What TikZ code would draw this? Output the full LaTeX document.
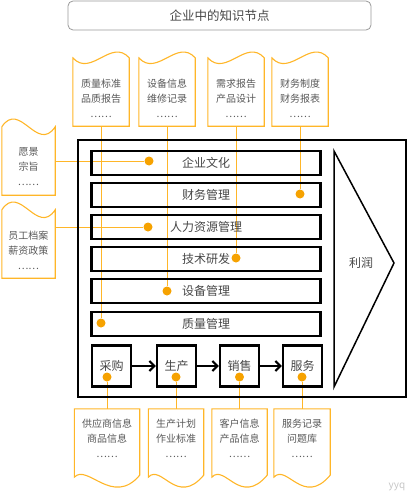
\documentclass[tikz,border=0pt]{standalone}
\usepackage{fontspec}
\setmainfont{Noto Sans CJK SC}
\usetikzlibrary{arrows.meta}

\definecolor{gold}{RGB}{255,182,40}
\definecolor{dotgold}{RGB}{246,162,0}
\definecolor{ink}{RGB}{70,70,70}

\begin{document}
\begin{tikzpicture}[x=1pt,y=-1pt,
  every node/.style={inner sep=0pt,align=center},
  headbox/.style={draw=gray!80,rounded corners=5pt,line width=0.8pt,minimum width=303pt,minimum height=29pt,font=\fontsize{12.5}{15}\selectfont,text=ink},
  bar/.style={draw,line width=2.2pt,minimum width=229pt,minimum height=24pt,font=\fontsize{12}{14}\selectfont,text=ink},
  stage/.style={draw,line width=2.2pt,minimum width=39pt,minimum height=41pt,font=\fontsize{12}{14}\selectfont,text=ink},
  paper/.style={minimum width=56pt,minimum height=56pt,font=\fontsize{10}{15}\selectfont,text=ink!90},
  sheet/.style={draw=gold,line width=1.1pt},
  link/.style={draw=gold,line width=1pt},
  knot/.style={circle,fill=dotgold,minimum size=9pt},
  flow/.style={line width=2.2pt,-{Straight Barb[length=5pt,width=10pt]}}]

\useasboundingbox (0,0) rectangle (409,500);

\node[headbox] (head) at (219.5,15.5) {企业中的知识节点};

% documents
\node[paper] (q1) at (101,98) {质量标准\\品质报告\\……};
\node[paper] (q2) at (167,98) {设备信息\\维修记录\\……};
\node[paper] (q3) at (236,98) {需求报告\\产品设计\\……};
\node[paper] (q4) at (300,98) {财务制度\\财务报表\\……};
\node[paper,minimum width=53pt] (v1) at (28.5,167) {愿景\\宗旨\\……};
\node[paper,minimum width=53pt] (v2) at (28.5,250) {员工档案\\薪资政策\\……};
\node[paper,minimum width=65pt,minimum height=58pt] (p1) at (107,438) {供应商信息\\商品信息\\……};
\node[paper,minimum width=55pt,minimum height=58pt] (p2) at (176,438) {生产计划\\作业标准\\……};
\node[paper,minimum width=55pt,minimum height=58pt] (p3) at (239.5,438) {客户信息\\产品信息\\……};
\node[paper,minimum width=56pt,minimum height=58pt] (p4) at (302,438) {服务记录\\问题库\\……};

\foreach \n in {q1,q2,q3,q4}
  \draw[sheet] (\n.south west) -- ([yshift=12pt]\n.north west) .. controls +(18,20) and +(-18,-20) .. ([yshift=12pt]\n.north east) -- (\n.south east) -- cycle;
\foreach \n in {v1,v2}
  \draw[sheet] (\n.south west) -- ([yshift=12pt]\n.north west) .. controls +(18,-27) and +(-18,27) .. ([yshift=12pt]\n.north east) -- (\n.south east) -- cycle;
\foreach \n in {p1,p2,p3,p4}
  \draw[sheet] (\n.north west) -- ([yshift=-10pt]\n.south west) .. controls +(13,-14) and +(-27,32) .. ([yshift=-8pt]\n.south east) -- (\n.north east) -- cycle;

% knowledge points
\node[knot] (k1) at (149,161) {};
\node[knot] (k2) at (300,194) {};
\node[knot] (k3) at (148,227) {};
\node[knot] (k4) at (236,258) {};
\node[knot] (k5) at (167,291) {};
\node[knot] (k6) at (101,323) {};
\node[knot] (m1) at (107,377) {};
\node[knot] (m2) at (176,377) {};
\node[knot] (m3) at (239.5,377) {};
\node[knot] (m4) at (302,377) {};

\draw[link] (v1.east |- k1) -- (k1);
\draw[link] (v2.east |- k3) -- (k3);
\draw[link] (q1.south) -- (k6);
\draw[link] (q2.south) -- (k5);
\draw[link] (q3.south) -- (k4);
\draw[link] (q4.south) -- (k2);
\draw[link] (m1) -- (p1.north);
\draw[link] (m2) -- (p2.north);
\draw[link] (m3) -- (p3.north);
\draw[link] (m4) -- (p4.north);

% enterprise
\draw[line width=1.6pt] (78,140) rectangle (406,397);
\draw[line width=1.5pt] (334,151) -- (394,263) -- (334,387) -- cycle;
\node[font=\fontsize{12}{14}\selectfont,text=ink] (profit) at (361,263) {利润};

\node[bar] (b1) at (206,163) {企业文化};
\node[bar] (b2) at (206,195) {财务管理};
\node[bar] (b3) at (206,227) {人力资源管理};
\node[bar] (b4) at (206,259) {技术研发};
\node[bar] (b5) at (206,291) {设备管理};
\node[bar] (b6) at (206,324) {质量管理};

\node[stage] (s1) at (111.5,366) {采购};
\node[stage] (s2) at (176.5,366) {生产};
\node[stage] (s3) at (239.5,366) {销售};
\node[stage] (s4) at (302.5,366) {服务};
\draw[flow] (s1) -- (s2);
\draw[flow] (s2) -- (s3);
\draw[flow] (s3) -- (s4);

\node[text=gray!45,font=\fontsize{10}{12}\selectfont] (mark) at (397,487) {yyq};
\end{tikzpicture}
\end{document}
